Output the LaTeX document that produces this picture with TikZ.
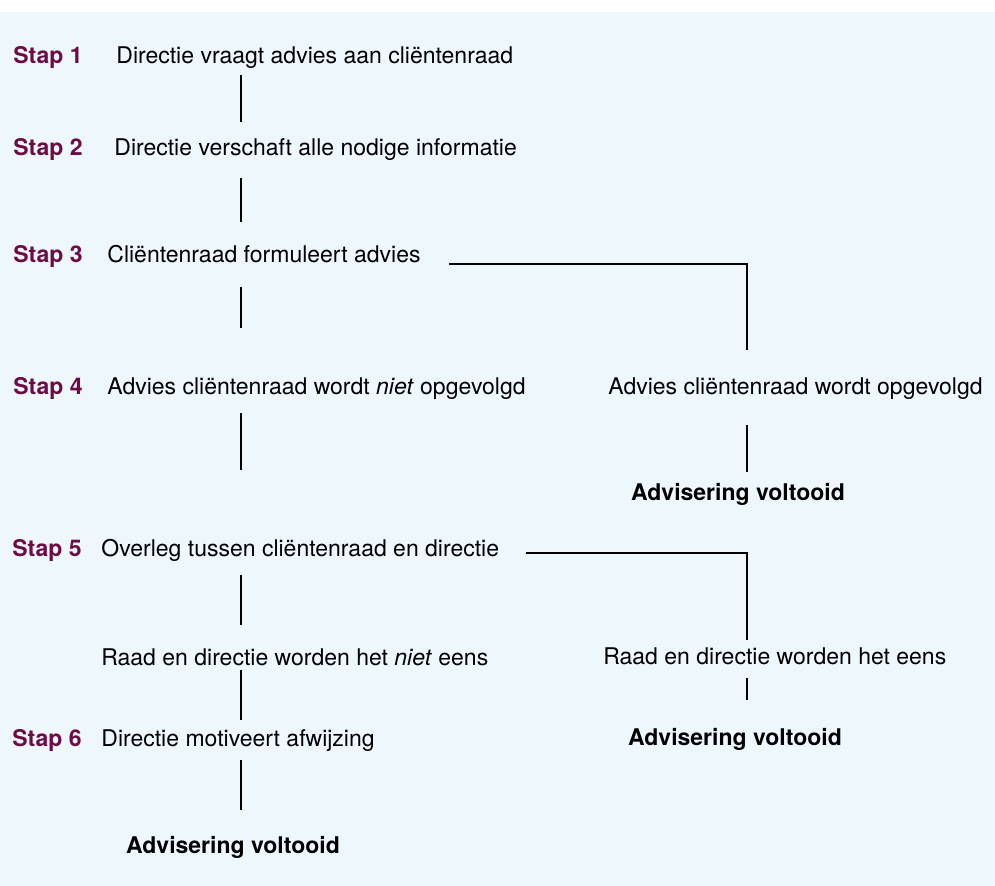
\documentclass[tikz,border=0pt]{standalone}
\usepackage{fontspec}
\setmainfont{TeX Gyre Heros}
\usepackage{xcolor}
\definecolor{stapred}{HTML}{6E0A46}
\definecolor{bgblue}{HTML}{EEF7FB}

\begin{document}
\begin{tikzpicture}[x=0.5pt,y=-0.5pt,
    txt/.style={anchor=west,inner sep=0pt,text height=8.4pt,text depth=0pt,font=\fontsize{11.5}{14}\selectfont},
    stap/.style={txt,font=\fontsize{11.5}{14}\selectfont\bfseries,text=stapred},
    done/.style={txt,anchor=center,font=\fontsize{11.5}{14}\selectfont\bfseries},
    link/.style={line width=1pt}]
            \useasboundingbox (0,0) rectangle (995,886);
            \fill[bgblue] (0,12) rectangle (995,886);
            \coordinate (spine) at (241,0);
            \coordinate (rspine) at (747,0);
            % stappen
            \node[stap] (s1) at (13,55) {Stap 1};
            \node[stap] (s2) at (13,147) {Stap 2};
            \node[stap] (s3) at (13,254) {Stap 3};
            \node[stap] (s4) at (13,386) {Stap 4};
            \node[stap] (s5) at (12,548) {Stap 5};
            \node[stap] (s6) at (12,738) {Stap 6};
            \node[txt] (t1) at (116,55) {Directie vraagt advies aan cliëntenraad};
            \node[txt] (t2) at (114,147) {Directie verschaft alle nodige informatie};
            \node[txt] (t3) at (107,254) {Cliëntenraad formuleert advies};
            \node[txt] (t4) at (107,386) {Advies cliëntenraad wordt \textit{niet} opgevolgd};
            \node[txt] (t4r) at (608,386) {Advies cliëntenraad wordt opgevolgd};
            \node[done] (a4) at (738,492) {Advisering voltooid};
            \node[txt] (t5) at (101,548) {Overleg tussen cliëntenraad en directie};
            \node[txt] (t5l) at (101,657) {Raad en directie worden het \textit{niet} eens};
            \node[txt] (t5r) at (603,656) {Raad en directie worden het eens};
            \node[done] (a5) at (735,737) {Advisering voltooid};
            \node[txt] (t6) at (101,738) {Directie motiveert afwijzing};
            \node[done] (a6) at (233,845) {Advisering voltooid};
            % lijnen
            \draw[link,shorten <=10pt,shorten >=12.5pt] (t1 -| spine) -- (t2 -| spine);
            \draw[link,shorten <=15.5pt,shorten >=16pt] (t2 -| spine) -- (t3 -| spine);
            \draw[link,shorten <=16.5pt,shorten >=29pt] (t3 -| spine) -- (t4 -| spine);
            \draw[link,shorten <=13.5pt,shorten >=39pt] (t4 -| spine) -- (t5 -| spine);
            \draw[link,shorten <=13.5pt,shorten >=16pt] (t5 -| spine) -- (t5l -| spine);
            \draw[link,shorten <=6.5pt,shorten >=9pt] (t5l -| spine) -- (t6 -| spine);
            \draw[link,shorten <=11pt,shorten >=17.5pt] (t6 -| spine) -- (a6 -| spine);
            \draw[link,shorten >=18pt] ([shift={(28,10)}]t3.east) -| (t4r -| rspine);
            \draw[link,shorten <=19.5pt,shorten >=10pt] (t4r -| rspine) -- (a4 -| rspine);
            \draw[link,shorten >=8pt] ([shift={(26,5)}]t5.east) -| (t5r -| rspine);
            \draw[link,shorten <=11pt,shorten >=18.5pt] (t5r -| rspine) -- (a5 -| rspine);
        \end{tikzpicture}
\end{document}
